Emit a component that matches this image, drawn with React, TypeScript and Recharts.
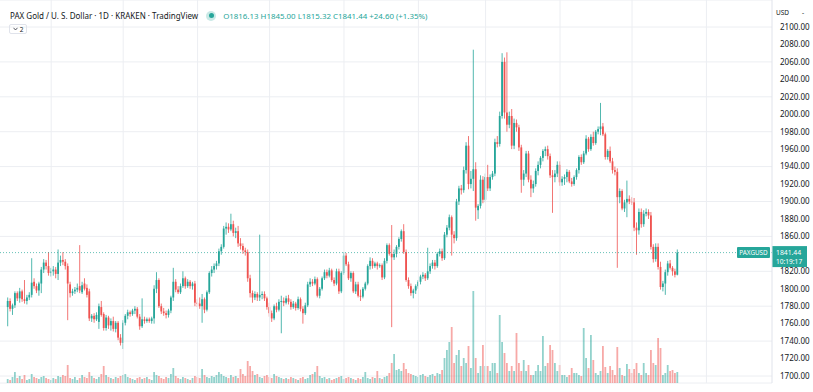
import React from 'react';
import {
  ComposedChart, Bar, XAxis, YAxis, CartesianGrid, ReferenceLine, Cell,
} from 'recharts';

// PAXG/USD daily candles, 14 Aug 2021 -> 20 May 2022
const opens = [
  1779, 1786, 1777, 1781, 1795, 1789, 1797, 1788, 1786, 1790,
  1793, 1808, 1803, 1798, 1806, 1822, 1830, 1826, 1818, 1820,
  1822, 1817, 1830, 1833, 1831, 1826, 1805, 1795, 1797, 1799,
  1803, 1796, 1806, 1801, 1797, 1766, 1769, 1765, 1762, 1779,
  1771, 1755, 1767, 1758, 1763, 1754, 1761, 1744, 1738, 1761,
  1769, 1773, 1771, 1775, 1777, 1768, 1757, 1765, 1763, 1765,
  1763, 1766, 1800, 1810, 1780, 1774, 1772, 1770, 1775, 1790,
  1808, 1799, 1796, 1803, 1812, 1803, 1808, 1803, 1806, 1784,
  1783, 1780, 1788, 1776, 1796, 1818, 1822, 1826, 1829, 1843,
  1848, 1869, 1871, 1868, 1874, 1864, 1866, 1852, 1849, 1844,
  1842, 1812, 1795, 1790, 1794, 1790, 1793, 1794, 1789, 1779,
  1772, 1766, 1780, 1776, 1785, 1786, 1784, 1789, 1785, 1779,
  1783, 1778, 1788, 1777, 1772, 1781, 1805, 1808, 1806, 1811,
  1792, 1800, 1812, 1819, 1815, 1821, 1810, 1806, 1820, 1797,
  1818, 1838, 1828, 1812, 1818, 1797, 1805, 1792, 1791, 1800,
  1806, 1826, 1832, 1826, 1829, 1826, 1827, 1813, 1832, 1850,
  1840, 1836, 1840, 1848, 1857, 1866, 1842, 1810, 1803, 1795,
  1798, 1803, 1808, 1814, 1816, 1812, 1820, 1826, 1830, 1826,
  1840, 1843, 1835, 1862, 1870, 1882, 1862, 1858, 1900, 1915,
  1913, 1936, 1964, 1920, 1926, 1937, 1890, 1895, 1925, 1902,
  1928, 1915, 1928, 1932, 1968, 1966, 1998, 2060, 2002, 1988,
  1998, 1964, 1990, 1985, 1962, 1925, 1932, 1955, 1925, 1915,
  1920, 1935, 1942, 1950, 1958, 1960, 1952, 1930, 1928, 1932,
  1942, 1922, 1926, 1928, 1934, 1923, 1920, 1928, 1936, 1951,
  1945, 1955, 1972, 1960, 1974, 1967, 1980, 1983, 1986, 1977,
  1951, 1958, 1946, 1936, 1934, 1905, 1912, 1892, 1899, 1903,
  1900, 1899, 1870, 1867, 1888, 1874, 1886, 1888, 1884, 1848,
  1834, 1848, 1825, 1802, 1806, 1819, 1829, 1824, 1820, 1816.13,
];
const highs = [
  1790, 1789, 1783, 1797, 1797, 1801, 1799, 1810, 1793, 1796,
  1835, 1812, 1806, 1808, 1825, 1834, 1833, 1842, 1824, 1826,
  1825, 1845, 1838, 1842, 1834, 1829, 1808, 1800, 1802, 1806,
  1850, 1808, 1812, 1805, 1800, 1771, 1772, 1773, 1783, 1786,
  1773, 1770, 1769, 1766, 1768, 1763, 1763, 1748, 1764, 1771,
  1776, 1775, 1777, 1780, 1779, 1771, 1789, 1768, 1767, 1767,
  1768, 1804, 1819, 1812, 1783, 1778, 1775, 1777, 1792, 1824,
  1811, 1803, 1806, 1820, 1814, 1811, 1810, 1808, 1809, 1788,
  1790, 1794, 1790, 1798, 1820, 1826, 1829, 1832, 1846, 1851,
  1872, 1876, 1875, 1886, 1878, 1870, 1872, 1858, 1852, 1847,
  1845, 1816, 1798, 1797, 1796, 1862, 1797, 1797, 1791, 1784,
  1775, 1782, 1784, 1788, 1792, 1790, 1792, 1793, 1788, 1786,
  1785, 1791, 1790, 1780, 1784, 1808, 1812, 1811, 1814, 1813,
  1802, 1814, 1822, 1822, 1824, 1823, 1813, 1823, 1823, 1820,
  1842, 1841, 1831, 1820, 1820, 1808, 1808, 1799, 1802, 1808,
  1828, 1836, 1835, 1831, 1831, 1829, 1829, 1835, 1852, 1852,
  1873, 1845, 1850, 1859, 1868, 1874, 1845, 1813, 1806, 1800,
  1805, 1810, 1816, 1819, 1818, 1847, 1829, 1833, 1833, 1842,
  1846, 1846, 1865, 1873, 1885, 1884, 1866, 1903, 1918, 1919,
  1940, 1968, 1975, 1935, 2074, 1945, 1897, 1930, 1929, 1932,
  1942, 1931, 1935, 1972, 1975, 2003, 2070, 2065, 2071, 2003,
  2006, 1995, 1994, 1988, 1965, 1936, 1958, 1958, 1930, 1924,
  1938, 1946, 1952, 1960, 1963, 1964, 1955, 1936, 1936, 1946,
  1946, 1929, 1931, 1937, 1936, 1927, 1930, 1938, 1953, 1954,
  1958, 1976, 1974, 1977, 1980, 1982, 1986, 2013, 1990, 1979,
  1960, 1963, 1950, 1940, 1938, 1915, 1914, 1902, 1924, 1907,
  1905, 1904, 1876, 1892, 1892, 1890, 1892, 1891, 1888, 1851,
  1852, 1852, 1831, 1809, 1822, 1832, 1833, 1826, 1823, 1845,
];
const lows = [
  1757, 1774, 1770, 1778, 1786, 1784, 1785, 1783, 1782, 1787,
  1790, 1800, 1795, 1792, 1795, 1818, 1822, 1815, 1814, 1815,
  1812, 1810, 1826, 1827, 1822, 1764, 1790, 1792, 1794, 1796,
  1795, 1794, 1798, 1790, 1763, 1762, 1761, 1763, 1754, 1768,
  1752, 1752, 1754, 1752, 1751, 1750, 1741, 1735, 1731, 1758,
  1765, 1768, 1769, 1771, 1766, 1753, 1755, 1760, 1761, 1761,
  1760, 1760, 1795, 1778, 1771, 1769, 1766, 1767, 1772, 1786,
  1796, 1794, 1794, 1801, 1800, 1801, 1800, 1799, 1780, 1779,
  1777, 1761, 1772, 1774, 1794, 1814, 1818, 1822, 1826, 1839,
  1846, 1862, 1864, 1866, 1860, 1858, 1848, 1845, 1840, 1838,
  1808, 1790, 1784, 1787, 1786, 1786, 1788, 1786, 1776, 1768,
  1762, 1764, 1773, 1774, 1749, 1780, 1782, 1782, 1776, 1777,
  1775, 1776, 1774, 1760, 1770, 1779, 1802, 1803, 1804, 1790,
  1789, 1798, 1810, 1812, 1813, 1808, 1803, 1804, 1794, 1795,
  1816, 1826, 1810, 1808, 1795, 1794, 1790, 1786, 1789, 1798,
  1804, 1822, 1823, 1824, 1822, 1824, 1810, 1811, 1829, 1838,
  1756, 1833, 1836, 1845, 1854, 1840, 1808, 1800, 1792, 1789,
  1794, 1800, 1805, 1811, 1809, 1810, 1817, 1823, 1822, 1824,
  1837, 1832, 1833, 1859, 1867, 1838, 1852, 1855, 1896, 1908,
  1910, 1932, 1914, 1915, 1912, 1878, 1880, 1892, 1898, 1899,
  1912, 1912, 1925, 1929, 1962, 1963, 1995, 1995, 1980, 1984,
  1960, 1960, 1980, 1958, 1910, 1918, 1928, 1922, 1905, 1910,
  1917, 1930, 1938, 1946, 1952, 1948, 1927, 1887, 1922, 1928,
  1918, 1918, 1919, 1922, 1921, 1917, 1918, 1925, 1932, 1942,
  1943, 1953, 1957, 1958, 1964, 1965, 1977, 1976, 1975, 1948,
  1948, 1944, 1932, 1930, 1824, 1898, 1890, 1888, 1882, 1897,
  1896, 1866, 1839, 1862, 1870, 1871, 1883, 1880, 1845, 1830,
  1831, 1822, 1799, 1797, 1793, 1815, 1822, 1815, 1813, 1815.32,
];
const closes = [
  1786, 1777, 1781, 1795, 1789, 1797, 1788, 1786, 1790, 1793,
  1807, 1803, 1798, 1806, 1822, 1830, 1826, 1818, 1820, 1822,
  1817, 1830, 1833, 1831, 1826, 1806, 1795, 1797, 1799, 1801,
  1798, 1804, 1800, 1793, 1766, 1769, 1765, 1770, 1780, 1770,
  1755, 1767, 1758, 1763, 1754, 1761, 1744, 1738, 1761, 1769,
  1773, 1771, 1775, 1777, 1768, 1757, 1765, 1763, 1765, 1763,
  1766, 1800, 1810, 1780, 1774, 1772, 1770, 1775, 1790, 1808,
  1799, 1796, 1803, 1812, 1803, 1808, 1803, 1806, 1784, 1783,
  1780, 1788, 1776, 1796, 1818, 1822, 1826, 1829, 1843, 1848,
  1869, 1871, 1868, 1874, 1864, 1866, 1852, 1849, 1844, 1842,
  1812, 1795, 1790, 1794, 1790, 1793, 1794, 1789, 1779, 1772,
  1766, 1780, 1776, 1785, 1786, 1784, 1789, 1785, 1779, 1783,
  1778, 1788, 1777, 1772, 1781, 1805, 1808, 1806, 1811, 1792,
  1800, 1812, 1819, 1815, 1821, 1810, 1806, 1820, 1797, 1818,
  1838, 1828, 1812, 1818, 1797, 1805, 1792, 1791, 1800, 1806,
  1826, 1832, 1826, 1829, 1826, 1827, 1813, 1832, 1850, 1840,
  1836, 1840, 1848, 1857, 1866, 1842, 1810, 1803, 1795, 1798,
  1803, 1808, 1814, 1816, 1812, 1820, 1826, 1830, 1826, 1840,
  1843, 1835, 1862, 1870, 1882, 1862, 1858, 1900, 1915, 1913,
  1936, 1964, 1920, 1926, 1937, 1893, 1895, 1925, 1902, 1928,
  1915, 1928, 1932, 1968, 1966, 1998, 2060, 2002, 1988, 1998,
  1964, 1990, 1985, 1962, 1925, 1932, 1955, 1925, 1915, 1920,
  1935, 1942, 1950, 1958, 1960, 1952, 1930, 1928, 1932, 1942,
  1922, 1926, 1928, 1934, 1923, 1920, 1928, 1936, 1951, 1945,
  1955, 1972, 1960, 1974, 1967, 1980, 1983, 1986, 1977, 1951,
  1958, 1946, 1936, 1934, 1905, 1912, 1892, 1899, 1903, 1900,
  1899, 1870, 1867, 1888, 1874, 1886, 1888, 1884, 1848, 1834,
  1848, 1825, 1802, 1806, 1819, 1829, 1824, 1820, 1816, 1841.44,
];
const volumes = [
  4, 3, 6, 11, 5, 7, 4, 8, 3, 4,
  9, 6, 5, 4, 6, 7, 5, 4, 3, 5,
  4, 7, 6, 8, 7, 18, 5, 4, 6, 3,
  5, 8, 6, 5, 11, 7, 5, 4, 6, 9,
  17, 8, 6, 5, 4, 6, 5, 7, 8, 9,
  6, 5, 4, 3, 5, 6, 4, 5, 6, 4,
  3, 11, 8, 7, 5, 4, 6, 5, 9, 15,
  7, 5, 4, 6, 5, 4, 3, 5, 7, 6,
  5, 14, 8, 6, 5, 7, 6, 8, 11, 9,
  7, 6, 5, 8, 6, 7, 5, 14, 9, 7,
  22, 17, 12, 8, 9, 6, 5, 7, 8, 6,
  5, 9, 7, 6, 5, 4, 5, 4, 6, 5,
  4, 3, 5, 6, 4, 5, 8, 9, 11, 17,
  7, 5, 6, 4, 5, 3, 4, 5, 6, 7,
  4, 5, 6, 5, 4, 3, 5, 4, 6, 11,
  5, 4, 6, 5, 12, 5, 4, 6, 7, 10,
  20, 29, 13, 14, 12, 20, 14, 10, 9, 8,
  7, 6, 8, 9, 7, 6, 8, 9, 7, 10,
  9, 13, 25, 33, 41, 56, 20, 28, 33, 17,
  25, 20, 37, 15, 92, 25, 10, 17, 38, 17,
  17, 12, 20, 20, 10, 68, 41, 30, 20, 12,
  17, 12, 50, 20, 12, 23, 12, 18, 8, 8,
  12, 18, 12, 47, 17, 20, 38, 33, 20, 12,
  18, 8, 8, 6, 8, 15, 10, 10, 8, 7,
  55, 25, 15, 48, 23, 10, 8, 12, 37, 16,
  10, 17, 13, 8, 36, 15, 8, 7, 19, 14,
  10, 14, 20, 10, 8, 20, 10, 8, 33, 20,
  18, 45, 35, 8, 10, 18, 12, 13, 10, 11,
];

// candle index of the first day of each month (Sep 2021 .. Jun 2022)
const monthStarts = [18, 48, 79, 109, 140, 171, 199, 230, 260, 291];
const priceTicks = [
  1700, 1720, 1740, 1760, 1780, 1800, 1820, 1860, 1880, 1900,
  1920, 1940, 1960, 1980, 2000, 2020, 2040, 2060, 2080, 2100,
];
const lastPrice = 1841.44;

const UP = '#26a69a';
const DOWN = '#ef5350';
const GRID = '#eceef2';
const FONT = "'Noto Sans', Roboto, sans-serif";

const data = closes.map((close, i) => ({
  i, open: opens[i], high: highs[i], low: lows[i], close, volume: volumes[i],
}));

const Candle = (props: any) => {
  const { x, y, width, height, payload } = props;
  if (!payload) return null;
  const { open, close, high, low } = payload;
  const color = close >= open ? UP : DOWN;
  const top = Math.min(y, y + height);
  const h = Math.abs(height);
  const k = h / ((high - low) || 1);
  const cx = x + width / 2;
  const yo = top + (high - open) * k;
  const yc = top + (high - close) * k;
  const bodyTop = Math.min(yo, yc);
  const bodyH = Math.max(Math.abs(yo - yc), 1);
  return (
    <g>
      <line x1={cx} x2={cx} y1={top} y2={top + h} stroke={color} strokeWidth={0.8} />
      <rect x={cx - width / 2} y={bodyTop} width={width} height={bodyH} fill={color} />
    </g>
  );
};

const LastPriceTag = (props: any) => {
  const { viewBox } = props;
  if (!viewBox) return null;
  const y = viewBox.y;
  const ax = viewBox.x + viewBox.width;
  return (
    <g style={{ fontFamily: FONT }}>
      <rect x={ax - 35} y={y - 5.5} width={33} height={11} fill={UP} rx={1} />
      <text x={ax - 18.5} y={y + 2.3} fill="#fff" fontSize={6.3} textAnchor="middle">PAXGUSD</text>
      <rect x={ax} y={y - 6.5} width={35} height={21} fill={UP} />
      <text x={ax + 4} y={y + 2.2} fill="#fff" fontSize={6.8}>1841.44</text>
      <text x={ax + 4} y={y + 11.4} fill="#fff" fontSize={6.6}>10:19:17</text>
    </g>
  );
};

export default function App() {
  return (
    <div style={{ position: 'relative', width: 813, height: 392, background: '#fff', overflow: 'hidden', fontFamily: FONT }}>
      <style>{'body{margin:0}'}</style>
      <ComposedChart width={813} height={392} data={data} margin={{ top: 0, right: 0, bottom: 9, left: 0 }}>
        <CartesianGrid xAxisId="p" yAxisId="p" stroke={GRID} vertical={false} />
        <XAxis xAxisId="p" dataKey="i" type="number" domain={[-3.33, 318.33]} hide allowDataOverflow />
        <XAxis xAxisId="v" dataKey="i" type="number" domain={[-3.33, 318.33]} hide allowDataOverflow />
        <YAxis
          yAxisId="p" orientation="right" width={41}
          domain={[1691.98, 2130.95]} ticks={priceTicks} allowDataOverflow
          tickFormatter={v => v.toFixed(2)}
          tick={{ fill: '#131722', fontSize: 8, fontFamily: FONT, textAnchor: 'start' }}
          tickLine={false} axisLine={{ stroke: '#e0e3eb' }}
        />
        <YAxis yAxisId="v" hide domain={[0, 383]} allowDataOverflow />
        {monthStarts.map(m => (
          <ReferenceLine key={m} xAxisId="p" yAxisId="p" x={m} stroke={GRID} strokeWidth={1} />
        ))}
        <Bar xAxisId="v" yAxisId="v" dataKey="volume" barSize={1.8} isAnimationActive={false}>
          {data.map(d => (
            <Cell key={d.i} fill={d.close >= d.open ? 'rgba(38,166,154,0.5)' : 'rgba(239,83,80,0.5)'} />
          ))}
        </Bar>
        <Bar
          xAxisId="p" yAxisId="p" dataKey={(d: any) => [d.low, d.high]}
          barSize={1.8} shape={Candle} isAnimationActive={false}
        />
        <ReferenceLine
          xAxisId="p" yAxisId="p" y={lastPrice}
          stroke="rgba(38,166,154,0.7)" strokeDasharray="1 2"
          label={<LastPriceTag />}
        />
      </ComposedChart>

      {/* legend */}
      <div style={{ position: 'absolute', left: 10, top: 10, display: 'flex', alignItems: 'center', whiteSpace: 'nowrap' }}>
        <span style={{ fontSize: 8, color: '#131722' }}>PAX Gold / U. S. Dollar · 1D · KRAKEN · TradingView</span>
        <span style={{ position: 'relative', width: 10, height: 10, margin: '0 7px 0 8px', display: 'inline-block' }}>
          <span style={{ position: 'absolute', inset: 0, borderRadius: 5, background: 'rgba(38,166,154,0.25)' }} />
          <span style={{ position: 'absolute', left: 2.5, top: 2.5, width: 5, height: 5, borderRadius: 3, background: UP }} />
        </span>
        <span style={{ fontSize: 7.9, color: UP }}>O1816.13 H1845.00 L1815.32 C1841.44 +24.60 (+1.35%)</span>
      </div>
      <div style={{
        position: 'absolute', left: 9, top: 24, width: 18, height: 10, border: '1px solid #e0e3eb',
        borderRadius: 2, fontSize: 6.5, color: '#131722', display: 'flex', alignItems: 'center',
        justifyContent: 'center', gap: 2, boxSizing: 'border-box',
      }}>
        <svg width={5} height={4}><path d="M0.5 0.8 L2.5 3 L4.5 0.8" stroke="#131722" strokeWidth={0.7} fill="none" /></svg>
        <span>2</span>
      </div>
      <div style={{ position: 'absolute', left: 776, top: 8, fontSize: 6.5, color: '#131722' }}>USD</div>
      <div style={{ position: 'absolute', left: 802, top: 8, fontSize: 6.5, color: '#131722' }}>-</div>
    </div>
  );
}
